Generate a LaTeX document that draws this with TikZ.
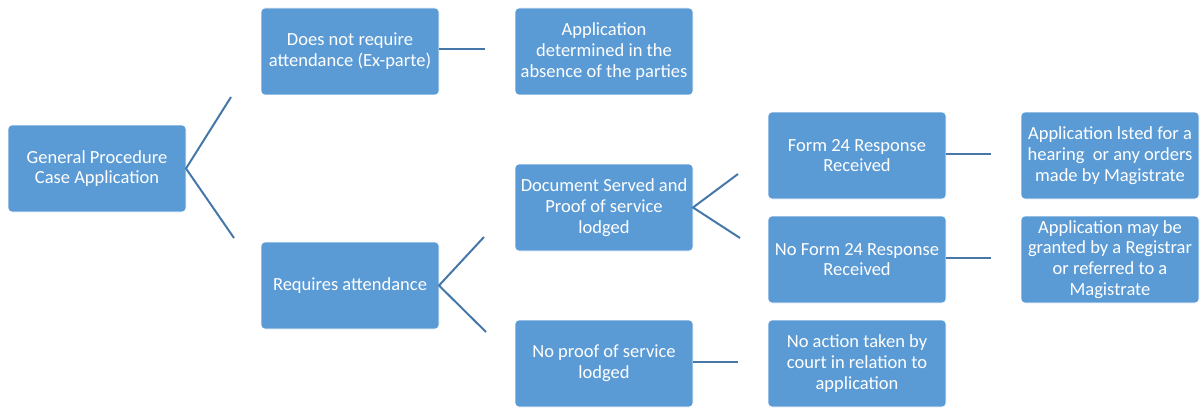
\documentclass[tikz,border=0pt]{standalone}
\usepackage{fontspec}
\setmainfont{Carlito}
\usepackage{tikz}
\definecolor{boxblue}{HTML}{5B9BD5}
\definecolor{lineblue}{HTML}{4577A8}
\tikzset{
  stepbox/.style={rectangle, rounded corners=4pt, fill=boxblue, draw=white, line width=0.6pt,
    minimum width=178pt, minimum height=87pt, outer sep=0pt, inner sep=2pt, align=center, text=white,
    font=\fontsize{18.5}{20.8}\selectfont},
  link/.style={draw=lineblue, line width=2pt}
}
\begin{document}
\begin{tikzpicture}[x=1pt, y=1pt]
            \useasboundingbox (0,0) rectangle (1203,408);
            \node[stepbox] (GP) at (97,239.5) {General Procedure\\Case Application};
            \node[stepbox] (DNR) at (350,356.5) {Does not require\\attendance (Ex-parte)};
            \node[stepbox] (RA) at (350,122.5) {Requires attendance};
            \node[stepbox] (AD) at (604,356.5) {Application\\determined in the\\absence of the parties};
            \node[stepbox] (DS) at (604,200.5) {Document Served and\\Proof of service\\lodged};
            \node[stepbox] (NP) at (604,44.5) {No proof of service\\lodged};
            \node[stepbox] (F24) at (857,252.5) {Form 24 Response\\Received};
            \node[stepbox] (NF24) at (857,148.5) {No Form 24 Response\\Received};
            \node[stepbox] (NA) at (857,44.5) {No action taken by\\court in relation to\\application};
            \node[stepbox] (ALH) at (1110,252.5) {Application lsted for a\\hearing~ or any orders\\made by Magistrate};
            \node[stepbox] (AMG) at (1110,148.5) {Application may be\\granted by a Registrar\\or referred to a\\Magistrate};
            % free ends of the connectors
            \coordinate (GPup) at (231,311);
            \coordinate (GPdown) at (234,170);
            \coordinate (DNRend) at (485,359);
            \coordinate (RAup) at (484,171);
            \coordinate (RAdown) at (486,76);
            \coordinate (DSup) at (738,234);
            \coordinate (DSdown) at (740,170);
            \coordinate (F24end) at (991,254);
            \coordinate (NF24end) at (991,150);
            \coordinate (NPend) at (738,46);
            \draw[link] (GPup) -- (GP.east) -- (GPdown);
            \draw[link] (DNR.east |- DNRend) -- (DNRend);
            \draw[link] (RAup) -- (RA.east) -- (RAdown);
            \draw[link] (DSup) -- (DS.east) -- (DSdown);
            \draw[link] (F24.east |- F24end) -- (F24end);
            \draw[link] (NF24.east |- NF24end) -- (NF24end);
            \draw[link] (NP.east |- NPend) -- (NPend);
        \end{tikzpicture}
\end{document}
